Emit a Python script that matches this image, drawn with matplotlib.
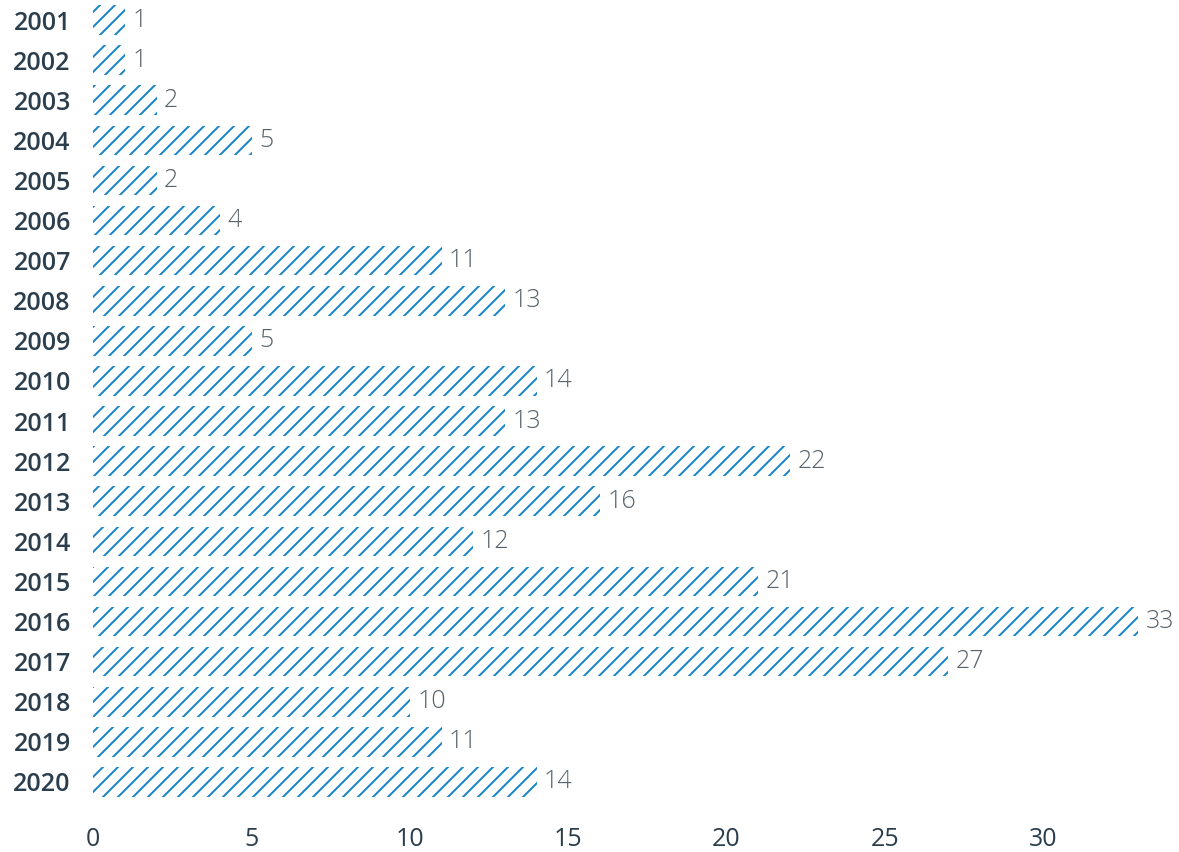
import matplotlib
matplotlib.use("Agg")
import matplotlib.pyplot as plt

years = ["2001", "2002", "2003", "2004", "2005", "2006", "2007", "2008", "2009", "2010",
         "2011", "2012", "2013", "2014", "2015", "2016", "2017", "2018", "2019", "2020"]
counts = [1, 1, 2, 5, 2, 4, 11, 13, 5, 14, 13, 22, 16, 12, 21, 33, 27, 10, 11, 14]
xticks = [0, 5, 10, 15, 20, 25, 30]

DPI = 90
W, H = 1179, 852
plt.rcParams['font.family'] = ['Open Sans', 'DejaVu Sans']
plt.rcParams['hatch.linewidth'] = 1.6

fig = plt.figure(figsize=(W / DPI, H / DPI), dpi=DPI)
px_unit = 31.66
x0 = 93.3
xmax = 34
ax = fig.add_axes([x0 / W, 50 / H, xmax * px_unit / W, 802 / H])

blue = "#1a86c8"
bars = ax.barh(range(len(years)), counts, height=0.74, color="none",
               edgecolor=blue, hatch="//", linewidth=0)
ax.bar_label(bars, labels=[str(c) for c in counts], padding=6,
             color="#55626b", fontsize=20, fontweight="light")

ax.set_xlim(0, xmax)
ax.set_ylim(len(years) - 0.5, -0.5)
ax.set_yticks(range(len(years)))
ax.set_yticklabels(years)
ax.set_xticks(xticks)
ax.set_xticklabels([str(t) for t in xticks])
for s in ax.spines.values():
    s.set_visible(False)
ax.tick_params(axis="both", length=0, labelsize=20, labelcolor="#2b3e4d")
ax.tick_params(axis="y", pad=18)
ax.tick_params(axis="x", pad=20)
for lab in ax.get_yticklabels():
    lab.set_fontweight("semibold")
for lab in ax.get_xticklabels():
    lab.set_fontweight("medium")

fig.savefig("out.png", dpi=DPI)
